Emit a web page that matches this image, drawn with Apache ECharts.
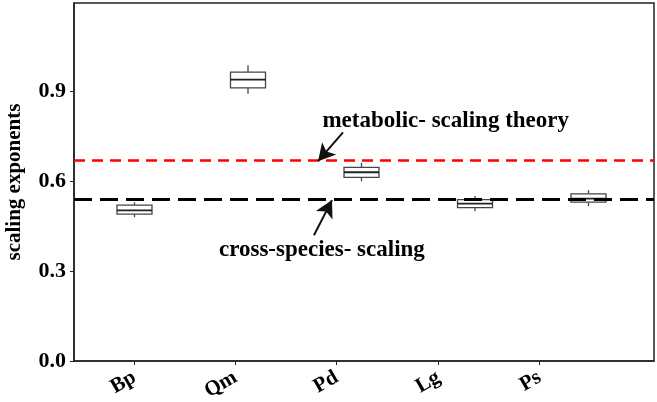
<!DOCTYPE html>
<html>
<head>
<meta charset="utf-8">
<script src="https://cdn.jsdelivr.net/npm/echarts@6/dist/echarts.min.js"></script>
<style>
  html, body { margin: 0; padding: 0; background: #fff; }
  #chart { width: 657px; height: 402px; }
</style>
</head>
<body>
<div id="chart"></div>
<script>
// species and their box positions / tick positions (matplotlib put them apart)
const species = ['Bp', 'Qm', 'Pd', 'Lg', 'Ps'];
const boxPos = [1, 2, 3, 4, 5];
const tickPos = [1, 1.89, 2.78, 3.68, 4.57];

// [min, Q1, median, Q3, max]
const boxes = [
    [0.480, 0.490, 0.503, 0.520, 0.530],
    [0.892, 0.912, 0.939, 0.964, 0.987],
    [0.600, 0.613, 0.630, 0.646, 0.662],
    [0.500, 0.512, 0.525, 0.539, 0.551],
    [0.517, 0.530, 0.542, 0.558, 0.570],
];

const yTicks = [0, 0.3, 0.6, 0.9];
const metabolicLine = 0.665;
const crossSpeciesLine = 0.542;

const font = 'Liberation Serif';

const chart = echarts.init(document.getElementById('chart'));

// plain box + whisker, no caps
function renderBox(params, api) {
    const x = api.value(0);
    const half = 17.5;
    const pMin = api.coord([x, api.value(1)]);
    const pQ1 = api.coord([x, api.value(2)]);
    const pMed = api.coord([x, api.value(3)]);
    const pQ3 = api.coord([x, api.value(4)]);
    const pMax = api.coord([x, api.value(5)]);
    const cx = pMed[0];
    const stroke = { stroke: '#444', lineWidth: 1.3 };
    return {
        type: 'group',
        children: [
            { type: 'line', shape: { x1: cx, y1: pMax[1], x2: cx, y2: pQ3[1] }, style: stroke },
            { type: 'line', shape: { x1: cx, y1: pQ1[1], x2: cx, y2: pMin[1] }, style: stroke },
            {
                type: 'rect',
                shape: { x: cx - half, y: pQ3[1], width: half * 2, height: pQ1[1] - pQ3[1] },
                style: { fill: '#fff', stroke: '#444', lineWidth: 1.3 },
            },
            { type: 'line', shape: { x1: cx - half, y1: pMed[1], x2: cx + half, y2: pMed[1] }, style: { stroke: '#222', lineWidth: 1.8 } },
        ],
    };
}

const option = {
    animation: false,
    backgroundColor: '#fff',
    grid: {
        left: 74,
        right: 3,
        top: 3,
        bottom: 41,
        outerBoundsMode: 'none',
        containLabel: false,
        show: true,
        borderColor: '#222',
        borderWidth: 1.5,
    },
    xAxis: {
        type: 'value',
        min: 0.467,
        max: 5.577,
        splitLine: { show: false },
        axisLine: { lineStyle: { color: '#222', width: 1.5 } },
        axisTick: {
            customValues: tickPos,
            length: 4,
            lineStyle: { color: '#222' },
        },
        axisLabel: {
            customValues: tickPos,
            rotate: 30,
            margin: 15,
            color: '#000',
            fontFamily: font,
            fontWeight: 'bold',
            fontSize: 21,
            formatter: (v) => {
                const i = tickPos.findIndex((t) => Math.abs(t - v) < 1e-6);
                return i >= 0 ? species[i] : '';
            },
        },
    },
    yAxis: {
        type: 'value',
        min: 0,
        max: 1.195,
        name: 'scaling exponents',
        nameLocation: 'middle',
        nameGap: 49,
        nameTextStyle: {
            color: '#000',
            fontFamily: font,
            fontWeight: 'bold',
            fontSize: 21,
        },
        splitLine: { show: false },
        axisLine: { show: true, lineStyle: { color: '#222', width: 1.5 } },
        axisTick: {
            show: true,
            customValues: yTicks,
            length: 4,
            lineStyle: { color: '#222' },
        },
        axisLabel: {
            customValues: yTicks,
            margin: 8,
            color: '#000',
            fontFamily: font,
            fontWeight: 'bold',
            fontSize: 22,
            formatter: (v) => v.toFixed(1),
        },
    },
    series: [
        {
            type: 'custom',
            renderItem: renderBox,
            data: boxes.map((b, i) => [boxPos[i]].concat(b)),
            encode: { x: 0, y: [1, 2, 3, 4, 5] },
            z: 2,
        },
        {
            type: 'line',
            data: [],
            silent: true,
            z: 3,
            markLine: {
                silent: true,
                symbol: 'none',
                label: { show: false },
                data: [
                    {
                        yAxis: metabolicLine,
                        lineStyle: { color: '#ff0000', width: 2.5, type: [11, 7] },
                    },
                    {
                        yAxis: crossSpeciesLine,
                        lineStyle: { color: '#000', width: 3, type: [18, 8] },
                    },
                ],
            },
        },
        {
            type: 'line',
            data: [],
            silent: true,
            z: 4,
            markLine: {
                silent: true,
                symbolSize: [14, 17],
                label: { show: false },
                lineStyle: { color: '#111', width: 2, type: 'solid' },
                data: [
                    [
                        { coord: [2.837, 0.763], symbol: 'none' },
                        { coord: [2.617, 0.667], symbol: 'arrow' },
                    ],
                    [
                        { coord: [2.581, 0.42], symbol: 'none' },
                        { coord: [2.740, 0.537], symbol: 'arrow' },
                    ],
                ],
            },
        },
    ],
};

chart.setOption(option);

// annotation texts, placed in data space
const notes = [
    { text: 'metabolic- scaling theory', at: [2.656, 0.80] },
    { text: 'cross-species- scaling', at: [1.744, 0.37] },
];

chart.setOption({
    graphic: notes.map((n) => {
        const p = chart.convertToPixel({ gridIndex: 0 }, n.at);
        return {
            type: 'text',
            x: p[0],
            y: p[1],
            style: {
                text: n.text,
                fill: '#000',
                font: 'bold 23px "Liberation Serif"',
                textVerticalAlign: 'middle',
            },
            z: 10,
        };
    }),
});
</script>
</body>
</html>
